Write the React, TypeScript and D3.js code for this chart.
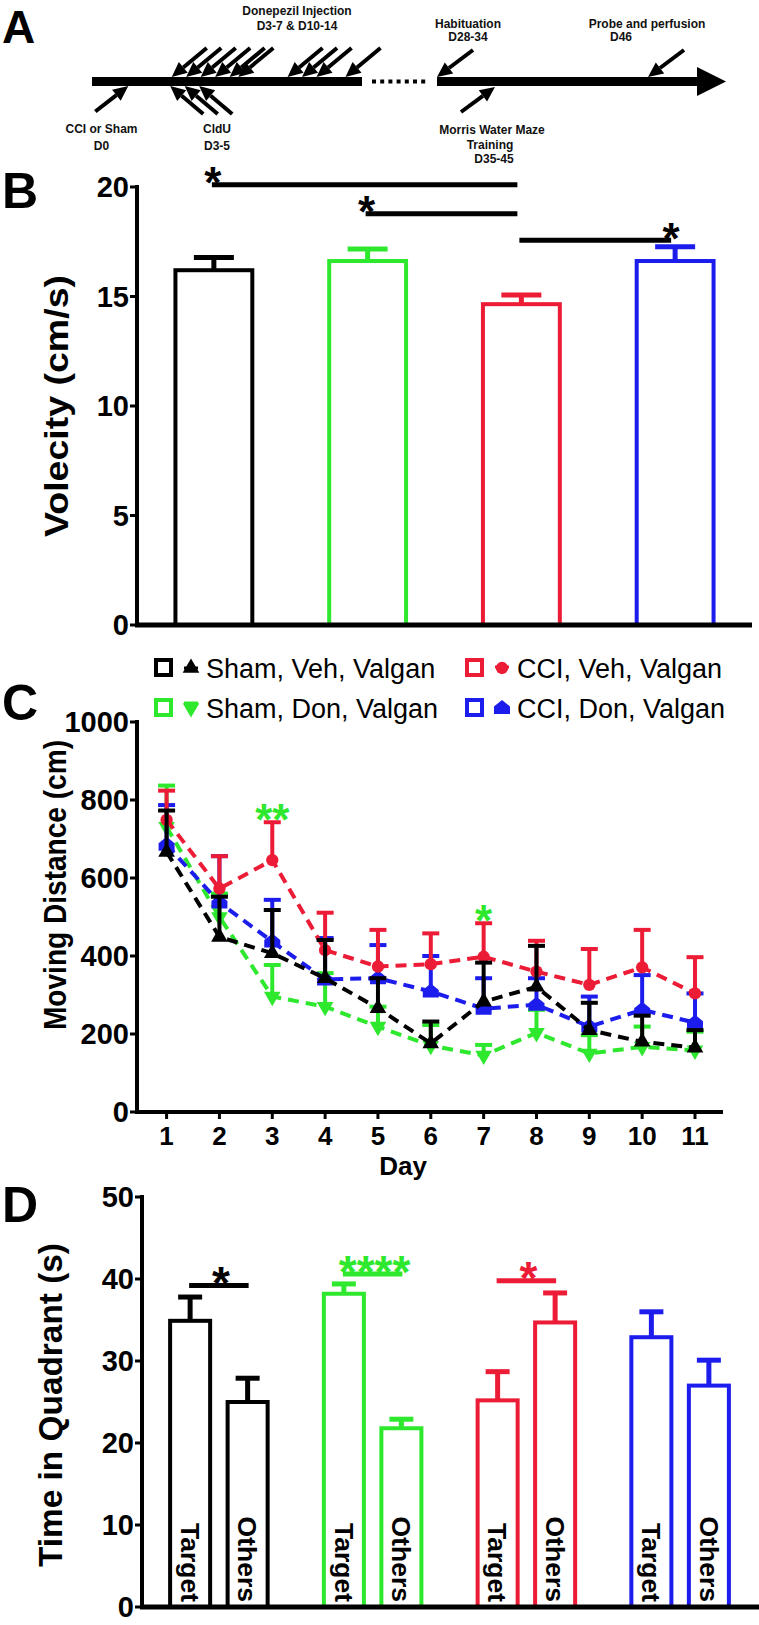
import React from 'react';
import * as d3 from 'd3';

const FONT = '"Liberation Sans", Arial, Helvetica, sans-serif';
const BLACK = '#000000';
const GREEN = '#2ee82e';
const RED = '#ec1c36';
const BLUE = '#1c1ced';
const groupColors = [BLACK, GREEN, RED, BLUE];

// ---------- Panel A : timeline ----------
const surgeryDays = [0];
const cldUDays = [3, 4, 5];
const donepezilDays = [3, 4, 5, 6, 7, 7.6, 11, 12, 13, 15];
const lateAboveDays = [28, 46];
const lateBelowDays = [35];

// ---------- Panel B : velocity ----------
const velocityGroups = ['Sham, Veh, Valgan', 'Sham, Don, Valgan', 'CCI, Veh, Valgan', 'CCI, Don, Valgan'];
const velocityMean = [16.2, 16.62, 14.65, 16.62];
const velocitySem = [0.58, 0.55, 0.42, 0.65];
const velocityTicks = [0, 5, 10, 15, 20];
const velocitySig = [
  { from: 0, to: 2, level: 20.1, label: '*', at: 'from' },
  { from: 1, to: 2, level: 18.78, label: '*', at: 'from' },
  { from: 2, to: 3, level: 17.57, label: '*', at: 'to' },
];

// ---------- Panel C : moving distance ----------
const days = [1, 2, 3, 4, 5, 6, 7, 8, 9, 10, 11];
const distTicks = [0, 200, 400, 600, 800, 1000];
const shamVehMean = [667, 449, 407, 343, 266, 176, 283, 321, 210, 180, 165];
const shamVehSem = [106, 103, 111, 98, 77, 56, 100, 105, 70, 67, 45];
const cciVehMean = [749, 573, 646, 415, 373, 379, 398, 360, 326, 371, 304];
const cciVehSem = [75, 83, 97, 96, 94, 79, 86, 79, 92, 96, 93];
const shamDonMean = [731, 500, 296, 270, 219, 170, 145, 203, 150, 167, 158];
const shamDonSem = [106, 60, 81, 86, 51, 53, 27, 59, 47, 52, 48];
const cciDonMean = [685, 537, 437, 340, 343, 309, 265, 275, 219, 262, 229];
const cciDonSem = [102, 119, 107, 106, 85, 91, 78, 68, 77, 89, 75];
const distStars = [
  { day: 3, level: 774, label: '**' },
  { day: 7, level: 514, label: '*' },
];

// ---------- Panel D : time in quadrant ----------
const quadrants = ['Target', 'Others'];
const targetMean = [34.9, 38.2, 25.2, 32.9];
const targetSem = [2.9, 1.2, 3.5, 3.1];
const othersMean = [25.0, 21.8, 34.7, 27.0];
const othersSem = [2.9, 1.1, 3.6, 3.1];
const quadTicks = [0, 10, 20, 30, 40, 50];
const quadSig = [
  { group: 0, level: 39.2, label: '*' },
  { group: 1, level: 40.6, label: '****' },
  { group: 2, level: 39.8, label: '*' },
];

function Arrow({ tx, ty, dx, dy }: { tx: number; ty: number; dx: number; dy: number }) {
  const len = Math.hypot(dx, dy);
  const ux = -dx / len, uy = -dy / len;
  const hl = 15, hw = 7;
  const bx = tx - ux * hl, by = ty - uy * hl;
  const px = -uy, py = ux;
  return (
    <g>
      <line x1={tx + dx} y1={ty + dy} x2={bx} y2={by} stroke="#000" strokeWidth={4} />
      <polygon points={`${tx},${ty} ${bx + px * hw},${by + py * hw} ${bx - px * hw},${by - py * hw}`} fill="#000" />
    </g>
  );
}

function Stars({ x, cy, label, color, size = 44 }: { x: number; cy: number; label: string; color: string; size?: number }) {
  return (
    <text x={x} y={cy + size * 0.56} textAnchor="middle" fontFamily={FONT} fontWeight="bold" fontSize={size} fill={color}>
      {label}
    </text>
  );
}

const houseSymbol = 'M0,-8 L8,-1.5 L8,6 L-8,6 L-8,-1.5 Z';
function markerPath(i: number): { d: string; rot: number } {
  if (i === 0) return { d: d3.symbol(d3.symbolTriangle, 120)() as string, rot: 0 };
  if (i === 1) return { d: d3.symbol(d3.symbolTriangle, 120)() as string, rot: 180 };
  if (i === 2) return { d: d3.symbol(d3.symbolCircle, 120)() as string, rot: 0 };
  return { d: houseSymbol, rot: 0 };
}

export default function App() {
  // ---- Panel A scales ----
  const earlyX = d3.scaleLinear().domain([0, 14]).range([128.3, 331]);
  const lateX = d3.scaleLinear().domain([28, 35, 46]).range([437, 495, 648]);
  const barTop = 77, barBot = 86;

  // ---- Panel B ----
  const bX = d3.scaleBand<number>().domain(d3.range(4)).range([137, 752]).paddingInner(0.5).paddingOuter(0.25);
  const bY = d3.scaleLinear().domain([0, 20]).range([625, 187]);
  const bw = bX.bandwidth();

  // ---- Panel C ----
  const cX = d3.scaleLinear().domain([0.44, 11.53]).range([137, 723]);
  const cY = d3.scaleLinear().domain([0, 1000]).range([1112, 722]);
  const series = [
    { name: 'Sham, Veh, Valgan', color: BLACK, mean: shamVehMean, sem: shamVehSem, m: 0 },
    { name: 'CCI, Veh, Valgan', color: RED, mean: cciVehMean, sem: cciVehSem, m: 2 },
    { name: 'Sham, Don, Valgan', color: GREEN, mean: shamDonMean, sem: shamDonSem, m: 1 },
    { name: 'CCI, Don, Valgan', color: BLUE, mean: cciDonMean, sem: cciDonSem, m: 3 },
  ];
  const drawOrder = [2, 3, 1, 0];
  const line = d3.line<number>().x((_, i) => cX(days[i])).y((v) => cY(v));

  // ---- Panel D ----
  const dG = d3.scaleBand<number>().domain(d3.range(4)).range([142, 757]);
  const dSub = d3.scaleBand<string>().domain(quadrants).range([0, dG.step()]).paddingInner(0.304).paddingOuter(0.489);
  const dY = d3.scaleLinear().domain([0, 50]).range([1607, 1197]);
  const dbw = dSub.bandwidth();

  const legendCols = [155, 466];
  const legendRows = [668, 708];

  return (
    <div style={{ position: 'absolute', left: 0, top: 0 }}>
      <svg width={759} height={1625} style={{ display: 'block', background: '#fff' }} fontFamily={FONT}>
        <rect width={759} height={1625} fill="#fff" />
        {/* ================= Panel A ================= */}
        <text x={2} y={43} fontSize={46} fontWeight="bold">A</text>
        <rect x={92} y={barTop} width={270} height={barBot - barTop} fill="#000" />
        {d3.range(7).map((i) => (
          <rect key={i} x={372 + i * 8.2} y={79.5} width={4} height={4} fill="#000" />
        ))}
        <rect x={437} y={barTop} width={260} height={barBot - barTop} fill="#000" />
        <polygon points={`697,67 726,81.5 697,96`} fill="#000" />
        {donepezilDays.map((d, i) => (
          <Arrow key={'dp' + i} tx={earlyX(d)} ty={barTop} dx={35} dy={-29} />
        ))}
        {cldUDays.map((d, i) => (
          <Arrow key={'cl' + i} tx={earlyX(d) - 1.5} ty={barBot} dx={33} dy={28} />
        ))}
        {surgeryDays.map((d, i) => (
          <Arrow key={'su' + i} tx={earlyX(d)} ty={barBot} dx={-33} dy={25.5} />
        ))}
        {lateAboveDays.map((d, i) => (
          <Arrow key={'la' + i} tx={lateX(d)} ty={barTop} dx={36} dy={-27} />
        ))}
        {lateBelowDays.map((d, i) => (
          <Arrow key={'lb' + i} tx={lateX(d)} ty={barBot + 1} dx={-34} dy={25} />
        ))}
        <g fontSize={12} fontWeight="bold" textAnchor="middle" fill="#111">
          <text x={297} y={15}>Donepezil Injection</text>
          <text x={297} y={30}>D3-7 &amp; D10-14</text>
          <text x={468} y={28}>Habituation</text>
          <text x={468} y={41}>D28-34</text>
          <text x={647} y={28}>Probe and perfusion</text>
          <text x={621} y={41}>D46</text>
          <text x={101.5} y={133}>CCI or Sham</text>
          <text x={101.5} y={150}>D0</text>
          <text x={217} y={133}>CldU</text>
          <text x={217} y={150}>D3-5</text>
          <text x={492} y={134}>Morris Water Maze</text>
          <text x={490} y={149}>Training</text>
          <text x={494} y={163}>D35-45</text>
        </g>

        {/* ================= Panel B ================= */}
        <text x={2} y={208} fontSize={50} fontWeight="bold">B</text>
        {velocityGroups.map((g, i) => {
          const x0 = bX(i)!;
          const cx = x0 + bw / 2;
          const top = bY(velocityMean[i]);
          const cap = bY(velocityMean[i] + velocitySem[i]);
          return (
            <g key={g} stroke={groupColors[i]}>
              <line x1={cx} x2={cx} y1={top} y2={cap} strokeWidth={5} />
              <line x1={cx - 20} x2={cx + 20} y1={cap} y2={cap} strokeWidth={5} />
              <rect x={x0} y={top} width={bw} height={bY(0) - top} fill="#fff" strokeWidth={4} />
            </g>
          );
        })}
        <line x1={137} x2={137} y1={185} y2={627} stroke="#000" strokeWidth={4} />
        <line x1={135} x2={752} y1={625} y2={625} stroke="#000" strokeWidth={5} />
        {velocityTicks.map((t) => (
          <g key={t}>
            <line x1={130} x2={137} y1={bY(t)} y2={bY(t)} stroke="#000" strokeWidth={3} />
            <text x={129} y={bY(t)} dy="0.36em" textAnchor="end" fontSize={29} fontWeight="bold">{t}</text>
          </g>
        ))}
        <text transform={`translate(56,406) rotate(-90)`} textAnchor="middle" dy="0.35em" fontSize={34} fontWeight="bold" textLength={262} lengthAdjust="spacingAndGlyphs">Volecity (cm/s)</text>
        {velocitySig.map((s, i) => {
          const x1 = bX(s.from)! + bw / 2 - 2;
          const x2 = bX(s.to)! + bw / 2 - 4;
          const y = bY(s.level);
          const sx = s.at === 'from' ? x1 + 1 : x2;
          return (
            <g key={i}>
              <line x1={x1} x2={x2} y1={y} y2={y} stroke="#000" strokeWidth={5} />
              <Stars x={sx} cy={y - 11} label={s.label} color="#000" />
            </g>
          );
        })}

        {/* ================= Panel C ================= */}
        <text x={2} y={720} fontSize={50} fontWeight="bold">C</text>
        {series.map((s, k) => {
          const col = k % 2, row = Math.floor(k / 2);
          const x = legendCols[col];
          const y = legendRows[row];
          const mp = markerPath(s.m);
          const capY = y + (s.m === 1 ? -5 : s.m === 0 ? 0 : -1);
          return (
            <g key={s.name}>
              <rect x={x + 1} y={y - 8} width={15} height={15} fill="#fff" stroke={s.color} strokeWidth={4} />
              <path d={mp.d} transform={`translate(${x + 36},${y}) rotate(${mp.rot})`} fill={s.color} />
              <line x1={x + 29} x2={x + 43} y1={capY} y2={capY} stroke={s.color} strokeWidth={3} />
              <text x={x + 51} y={y} dy="0.36em" fontSize={27}>{s.name}</text>
            </g>
          );
        })}
        {drawOrder.map((k) => {
          const s = series[k];
          const mp = markerPath(s.m);
          return (
            <g key={'ser' + k}>
              <path d={line(s.mean) as string} fill="none" stroke={s.color} strokeWidth={4} strokeDasharray="11,7" />
              {s.mean.map((v, i) => {
                const x = cX(days[i]);
                const yc = cY(v + s.sem[i]);
                return (
                  <g key={i} stroke={s.color} strokeWidth={4}>
                    <line x1={x} x2={x} y1={cY(v)} y2={yc} />
                    <line x1={x - 8.5} x2={x + 8.5} y1={yc} y2={yc} />
                  </g>
                );
              })}
              {s.mean.map((v, i) => (
                <path key={'m' + i} d={mp.d} transform={`translate(${cX(days[i])},${cY(v)}) rotate(${mp.rot})`} fill={s.color} />
              ))}
            </g>
          );
        })}
        {distStars.map((s, i) => (
          <Stars key={i} x={cX(s.day)} cy={cY(s.level)} label={s.label} color={GREEN} />
        ))}
        <line x1={137} x2={137} y1={720} y2={1114} stroke="#000" strokeWidth={4} />
        <line x1={135} x2={723} y1={1112} y2={1112} stroke="#000" strokeWidth={4} />
        {distTicks.map((t) => (
          <g key={t}>
            <line x1={130} x2={137} y1={cY(t)} y2={cY(t)} stroke="#000" strokeWidth={3} />
            <text x={129} y={cY(t)} dy="0.36em" textAnchor="end" fontSize={29} fontWeight="bold">{t}</text>
          </g>
        ))}
        {days.map((d) => (
          <g key={d}>
            <line x1={cX(d)} x2={cX(d)} y1={1112} y2={1119} stroke="#000" strokeWidth={3} />
            <text x={cX(d)} y={1136} dy="0.36em" textAnchor="middle" fontSize={26} fontWeight="bold">{d}</text>
          </g>
        ))}
        <text x={403} y={1166} dy="0.36em" textAnchor="middle" fontSize={26} fontWeight="bold">Day</text>
        <text transform={`translate(55,885) rotate(-90)`} textAnchor="middle" dy="0.35em" fontSize={31} fontWeight="bold" textLength={290} lengthAdjust="spacingAndGlyphs">Moving Distance (cm)</text>

        {/* ================= Panel D ================= */}
        <text x={2} y={1222} fontSize={50} fontWeight="bold">D</text>
        {d3.range(4).map((g) => {
          const vals = [
            { q: 'Target', m: targetMean[g], e: targetSem[g] },
            { q: 'Others', m: othersMean[g], e: othersSem[g] },
          ];
          return (
            <g key={g}>
              {vals.map((v) => {
                const x0 = dG(g)! + dSub(v.q)!;
                const cx = x0 + dbw / 2;
                const top = dY(v.m);
                const cap = dY(v.m + v.e);
                return (
                  <g key={v.q}>
                    <g stroke={groupColors[g]}>
                      <line x1={cx} x2={cx} y1={top} y2={cap} strokeWidth={5} />
                      <line x1={cx - 12} x2={cx + 12} y1={cap} y2={cap} strokeWidth={5} />
                      <rect x={x0} y={top} width={dbw} height={dY(0) - top} fill="#fff" strokeWidth={4} />
                    </g>
                    <text transform={`translate(${cx},1602) rotate(90)`} textAnchor="end" dy="0.35em" fontSize={26.5} fontWeight="bold">{v.q}</text>
                  </g>
                );
              })}
            </g>
          );
        })}
        {quadSig.map((s, i) => {
          const x1 = dG(s.group)! + dSub('Target')! + dbw / 2 - 1;
          const x2 = dG(s.group)! + dSub('Others')! + dbw / 2 + 1;
          const y = dY(s.level);
          const c = groupColors[s.group];
          return (
            <g key={i}>
              <line x1={x1} x2={x2} y1={y} y2={y} stroke={c} strokeWidth={5} />
              <Stars x={(x1 + x2) / 2 + 2} cy={y - 12} label={s.label} color={c} size={46} />
            </g>
          );
        })}
        <line x1={142} x2={142} y1={1195} y2={1609} stroke="#000" strokeWidth={4} />
        <line x1={140} x2={759} y1={1607} y2={1607} stroke="#000" strokeWidth={5} />
        {quadTicks.map((t) => (
          <g key={t}>
            <line x1={135} x2={142} y1={dY(t)} y2={dY(t)} stroke="#000" strokeWidth={3} />
            <text x={134} y={dY(t)} dy="0.36em" textAnchor="end" fontSize={29} fontWeight="bold">{t}</text>
          </g>
        ))}
        <text transform={`translate(50,1405) rotate(-90)`} textAnchor="middle" dy="0.35em" fontSize={33} fontWeight="bold" textLength={324} lengthAdjust="spacingAndGlyphs">Time in Quadrant (s)</text>
      </svg>
    </div>
  );
}
